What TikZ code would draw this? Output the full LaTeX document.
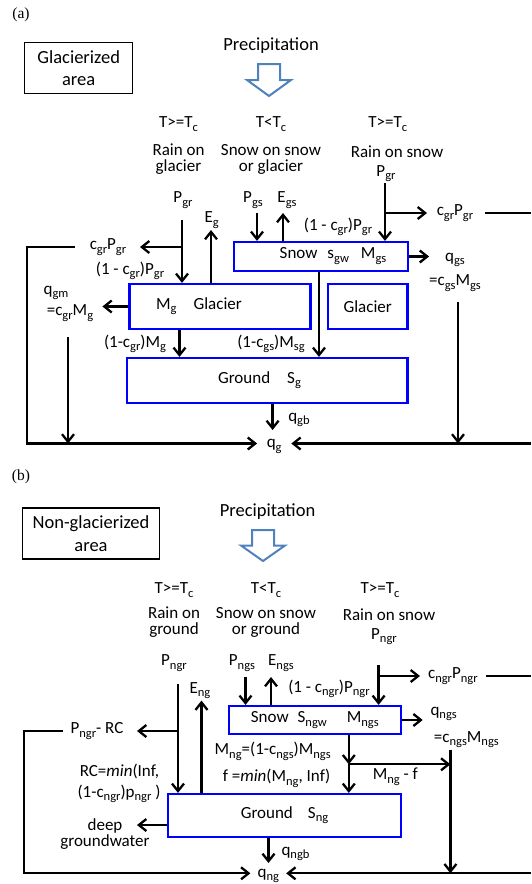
\documentclass[tikz,border=0pt]{standalone}
\usepackage{fontspec}
\setmainfont{Carlito}
\newfontfamily\capfont{Liberation Serif}
\usetikzlibrary{arrows.meta}
\definecolor{precblue}{RGB}{79,129,189}
\definecolor{boxblue}{RGB}{0,0,255}
\newcommand{\lo}[1]{\raisebox{-3.5pt}{\fontsize{12.5}{12}\selectfont#1}}

\begin{document}
\begin{tikzpicture}[x=1pt, y=-1pt, font=\fontsize{17}{16}\selectfont,
	flow/.style={line width=2.3pt, -{Straight Barb[length=7.5pt, width=12pt]}},
	wire/.style={line width=2.3pt},
	store/.style={draw=boxblue, line width=2.2pt, inner sep=0pt},
	area/.style={draw, line width=1.3pt, align=center, font=\fontsize{18.5}{22.5}\selectfont},
	title/.style={font=\fontsize{18.5}{22}\selectfont},
	lbl/.style={align=center},
	tight/.style={inner sep=0.5pt, anchor=base},
	precip/.style={draw=precblue, line width=2pt, line join=miter},
	panel/.style={font=\capfont\fontsize{15.5}{18}\selectfont}]
	\useasboundingbox (0,0) rectangle (531,884);

	% (a) glacierized area
	\node[panel] at (21,15) {(a)};
	\node[area, minimum width=108, minimum height=51.5] (areaA) at (78.7,68) {Glacierized\\area};
	\node[title] (precA) at (271,46) {Precipitation};
	\draw[precip] (258,64) -- (280,64) -- (280,80) -- (291,80) -- (269,96) -- (247,80) -- (258,80) -- cycle;
	\node at (178.5,124) {T>=T\lo{c}};
	\node at (271,124) {T<T\lo{c}};
	\node at (387.7,124) {T>=T\lo{c}};
	\node[lbl] at (178.5,159) {Rain on\\glacier};
	\node[lbl] at (271,159) {Snow on snow\\or glacier};
	\node[tight] at (397,157) {Rain on snow};
	\node[tight] at (386,176) {P\lo{gr}};
	\node at (183,200) {P\lo{gr}};
	\node at (211.6,220) {E\lo{g}};
	\node at (253,200) {P\lo{gs}};
	\node at (287,200) {E\lo{gs}};

	\node[store, minimum width=174, minimum height=29] (snowA) at (321,256.5) {};
	\node at (333,256) {Snow\hspace{10pt}s\lo{gw}\hspace{12pt}M\lo{gs}};
	\node[store, minimum width=181, minimum height=45] (glacA) at (220,306.5) {};
	\node at (199,306) {M\lo{g}\hspace{17pt}Glacier};
	\node[store, minimum width=79.5, minimum height=45] (iceA) at (367.7,306.5) {Glacier};
	\node[store, minimum width=280.5, minimum height=45] (grndA) at (267.3,380.5) {};
	\node at (259.5,380) {Ground\hspace{17pt}S\lo{g}};
	\node[inner xsep=9.5pt] (qA) at (274.2,446.5) {q\lo{g}};

	\coordinate (rainA) at (182,247);
	\draw[flow] (182,220) -- (182,0 |- glacA.north);
	\draw[flow] (rainA) -- (140,247);
	\node at (108,247) {c\lo{gr}P\lo{gr}};
	\node at (130,271) {(1 - c\lo{gr})P\lo{gr}};
	\draw[flow] (75,247) -- (27,247) -- (27,443.5) -- (qA.west |- 0,443.5);
	\draw[flow] (211,0 |- glacA.north) -- (211,230);
	\draw[flow] (257,213) -- (257,0 |- snowA.north);
	\draw[flow] (283,0 |- snowA.north) -- (283,213);
	\node at (338,227) {(1 - c\lo{gr})P\lo{gr}};
	\coordinate (rsnowA) at (385,213);
	\draw[flow] (385,183) -- (385,0 |- snowA.north);
	\draw[flow] (rsnowA) -- (427,213);
	\node at (455,213) {c\lo{gr}P\lo{gr}};
	\draw[wire] (485,213) -- (531,213);
	\draw[flow] (snowA.east) -- ++(20,0);
	\node at (455,260) {q\lo{gs}};
	\node at (455,283) {=c\lo{gs}M\lo{gs}};
	\draw[flow] (458,302) -- (458,443.5);
	\draw[flow] (glacA.west) -- ++(-26,0);
	\node at (56,293) {q\lo{gm}};
	\node at (70,313) {=c\lo{gr}M\lo{g}};
	\draw[flow] (68,337) -- (68,443.5);
	\draw[flow] (179.5,0 |- glacA.south) -- (179.5,0 |- grndA.north);
	\node at (135,344) {(1-c\lo{gr})M\lo{g}};
	\draw[flow] (319,0 |- snowA.south) -- (319,0 |- grndA.north);
	\node at (271,344) {(1-c\lo{gs})M\lo{sg}};
	\draw[flow] (272.6,0 |- grndA.south) -- (272.6,430);
	\node at (299,420) {q\lo{gb}};
	\draw[flow] (531,443.5) -- (qA.east |- 0,443.5);

	% (b) non-glacierized area
	\node[panel] at (21,477) {(b)};
	\node[area, minimum width=137, minimum height=51] (areaB) at (91,533.5) {Non-glacierized\\area};
	\node[title] (precB) at (267.5,512) {Precipitation};
	\draw[precip] (252,530) -- (274,530) -- (274,545.5) -- (285,545.5) -- (263,561) -- (241,545.5) -- (252,545.5) -- cycle;
	\node at (174,590) {T>=T\lo{c}};
	\node at (266,590) {T<T\lo{c}};
	\node at (380,590) {T>=T\lo{c}};
	\node[lbl] at (174,622) {Rain on\\ground};
	\node[lbl] at (266,622) {Snow on snow\\or ground};
	\node[tight] at (389,620.5) {Rain on snow};
	\node[tight] at (384,639) {P\lo{ngr}};
	\node at (174,663) {P\lo{ngr}};
	\node at (242,663) {P\lo{ngs}};
	\node at (281,663) {E\lo{ngs}};
	\node at (200,690.5) {E\lo{ng}};

	\node[store, minimum width=171.6, minimum height=28] (snowB) at (314.8,720) {Snow\hspace{9pt}S\lo{ngw}\hspace{20pt}M\lo{ngs}};
	\node[store, minimum width=232.3, minimum height=42.8] (grndB) at (284.5,815.4) {Ground\hspace{15pt}S\lo{ng}};
	\node[inner xsep=7pt, inner ysep=0pt] (qB) at (268.3,876) {q\lo{ng}};

	\coordinate (rainB) at (178,731);
	\draw[flow] (178,684) -- (178,0 |- grndB.north);
	\draw[flow] (rainB) -- (137,731);
	\node at (97,731) {P\lo{ngr}- RC};
	\draw[flow] (63,731) -- (24,731) -- (24,873.3) -- (qB.west |- 0,873.3);
	\draw[flow] (201.5,0 |- grndB.north) -- (201.5,700.6);
	\draw[flow] (245.5,677) -- (245.5,0 |- snowB.north);
	\draw[flow] (271,0 |- snowB.north) -- (271,677);
	\node at (329,689) {(1 - c\lo{ngr})P\lo{ngr}};
	\coordinate (rsnowB) at (378.6,676);
	\draw[flow] (378.6,665) -- (378.6,0 |- snowB.north);
	\draw[flow] (rsnowB) -- (420,676);
	\node at (452.9,676) {c\lo{ngr}P\lo{ngr}};
	\draw[wire] (486,676) -- (531,676);
	\draw[flow] (snowB.east) -- ++(21,0);
	\node at (443.7,714) {q\lo{ngs}};
	\node at (466.4,739.6) {=c\lo{ngs}M\lo{ngs}};
	\draw[flow] (450.4,749.7) -- (450.4,873.3);
	\coordinate (meltB) at (348.8,764.3);
	\draw[flow] (meltB |- snowB.south) -- (meltB);
	\draw[flow] (meltB) -- (meltB |- grndB.north);
	\draw[flow] (meltB) -- (450.4,764.3);
	\node at (272.7,751.4) {M\lo{ng}=(1-c\lo{ngs})M\lo{ngs}};
	\node at (276.6,778.5) {f =\textit{min}(M\lo{ng}, Inf)};
	\node at (395.4,776.8) {M\lo{ng} - f};
	\node at (119.5,771.7) {RC=\textit{min}(Inf,};
	\node at (119,793.8) {(1-c\lo{ngr})p\lo{ngr} )};
	\draw[flow] (grndB.west |- 0,825) -- (137,825);
	\node[lbl] at (105,834) {deep\\groundwater};
	\draw[flow] (268.5,0 |- grndB.south) -- (268.5,863);
	\node at (295.5,854) {q\lo{ngb}};
	\draw[flow] (531,873.3) -- (qB.east |- 0,873.3);
\end{tikzpicture}
\end{document}
